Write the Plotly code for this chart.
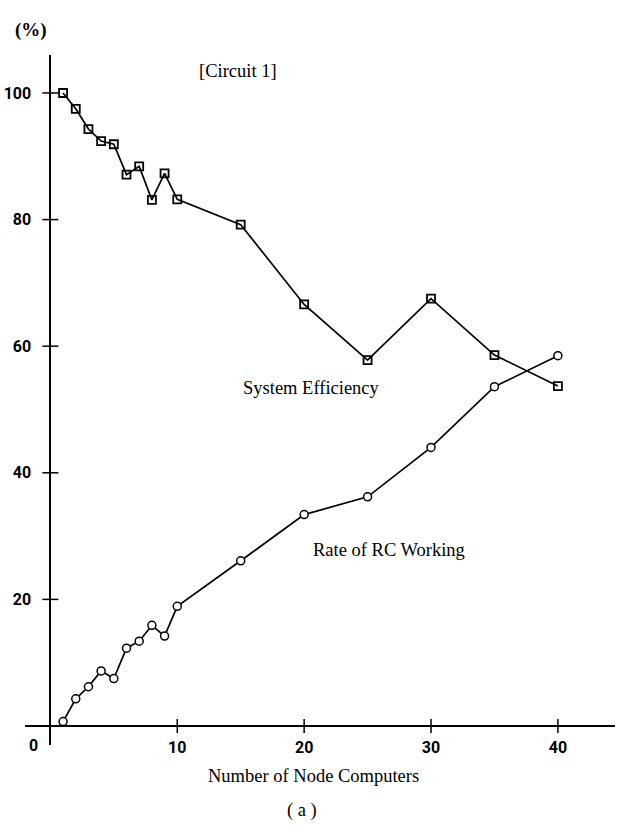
import plotly.graph_objects as go

nodes = [1, 2, 3, 4, 5, 6, 7, 8, 9, 10, 15, 20, 25, 30, 35, 40]
system_efficiency = [100.0, 97.5, 94.3, 92.4, 91.9, 87.1, 88.4, 83.1, 87.3, 83.2,
                     79.2, 66.6, 57.8, 67.5, 58.6, 53.7]
rc_working = [0.7, 4.3, 6.2, 8.7, 7.5, 12.3, 13.4, 15.9, 14.2, 18.9,
              26.1, 33.4, 36.2, 44.0, 53.6, 58.5]
x_ticks = [10, 20, 30, 40]
y_ticks = [20, 40, 60, 80, 100]

X_RANGE = [-2.0, 44.5]
Y_RANGE = [-3.0, 106.0]

serif = "Liberation Serif, Times New Roman, serif"
narrow = "Roboto, sans-serif"

fig = go.Figure()
fig.add_trace(go.Scatter(
    x=nodes, y=system_efficiency, mode="lines+markers",
    line=dict(color="black", width=1.7),
    marker=dict(symbol="square-open", size=8, color="black", line=dict(width=1.8)),
    name="System Efficiency", showlegend=False))
fig.add_trace(go.Scatter(
    x=nodes, y=rc_working, mode="lines+markers",
    line=dict(color="black", width=1.7),
    marker=dict(symbol="circle", size=8, color="white", line=dict(color="black", width=1.5)),
    name="Rate of RC Working", showlegend=False))

shapes = []
for v in x_ticks:
    shapes.append(dict(type="line", xref="x", yref="y", ysizemode="pixel", yanchor=0,
                       x0=v, x1=v, y0=-7, y1=7, line=dict(color="black", width=1.5)))
for v in y_ticks:
    shapes.append(dict(type="line", xref="x", yref="y", xsizemode="pixel", xanchor=0,
                       y0=v, y1=v, x0=-8, x1=8, line=dict(color="black", width=1.5)))

xpos = (0 - Y_RANGE[0]) / (Y_RANGE[1] - Y_RANGE[0])
ypos = (0 - X_RANGE[0]) / (X_RANGE[1] - X_RANGE[0])

tickfont = dict(family=narrow, size=16, color="black", weight="bold")

fig.update_layout(
    width=620, height=832,
    margin=dict(l=25, r=5, t=55, b=87, autoexpand=False),
    paper_bgcolor="white", plot_bgcolor="white",
    shapes=shapes,
    xaxis=dict(range=X_RANGE, anchor="free", position=xpos, showgrid=False, zeroline=False,
               showline=True, linecolor="black", linewidth=2, ticks="", automargin=False,
               tickvals=x_ticks, ticktext=[str(v) for v in x_ticks],
               tickfont=tickfont, ticklabelstandoff=7),
    yaxis=dict(range=Y_RANGE, anchor="free", position=ypos, showgrid=False, zeroline=False,
               showline=True, linecolor="black", linewidth=2, ticks="", automargin=False,
               tickvals=y_ticks, ticktext=[str(v) for v in y_ticks],
               tickfont=tickfont, ticklabelstandoff=15),
    annotations=[
        dict(text="[Circuit 1]", x=14.8, y=103.4, xref="x", yref="y", showarrow=False,
             xanchor="center", font=dict(family=serif, size=18.5, color="black")),
        dict(text="System Efficiency", x=20.6, y=53.4, xref="x", yref="y", showarrow=False,
             xanchor="center", font=dict(family=serif, size=18.5, color="black")),
        dict(text="Rate of RC Working", x=26.7, y=27.8, xref="x", yref="y", showarrow=False,
             xanchor="center", font=dict(family=serif, size=18.5, color="black")),
        dict(text="0", x=-1.35, y=-3.0, xref="x", yref="y", showarrow=False,
             xanchor="center", font=tickfont),
        dict(text="Number of Node Computers", x=313, y=832 - 788, xref="paper", yref="paper",
             xanchor="center", showarrow=False, font=dict(family=serif, size=18.5, color="black")),
        dict(text="( a )", x=302, y=832 - 823, xref="paper", yref="paper",
             xanchor="center", showarrow=False, font=dict(family=serif, size=18.5, color="black")),
        dict(text="(%)", x=31, y=832 - 17, xref="paper", yref="paper",
             xanchor="center", showarrow=False,
             font=dict(family=serif, size=19, color="black", weight="bold")),
    ],
)

# convert pixel-placed paper annotations to paper fractions
pw, ph = 620 - 25 - 5, 832 - 55 - 87
for a in fig.layout.annotations:
    if a.xref == "paper":
        a.x = (a.x - 25) / pw
        a.y = (a.y - 87) / ph

fig.write_html("out.html")
